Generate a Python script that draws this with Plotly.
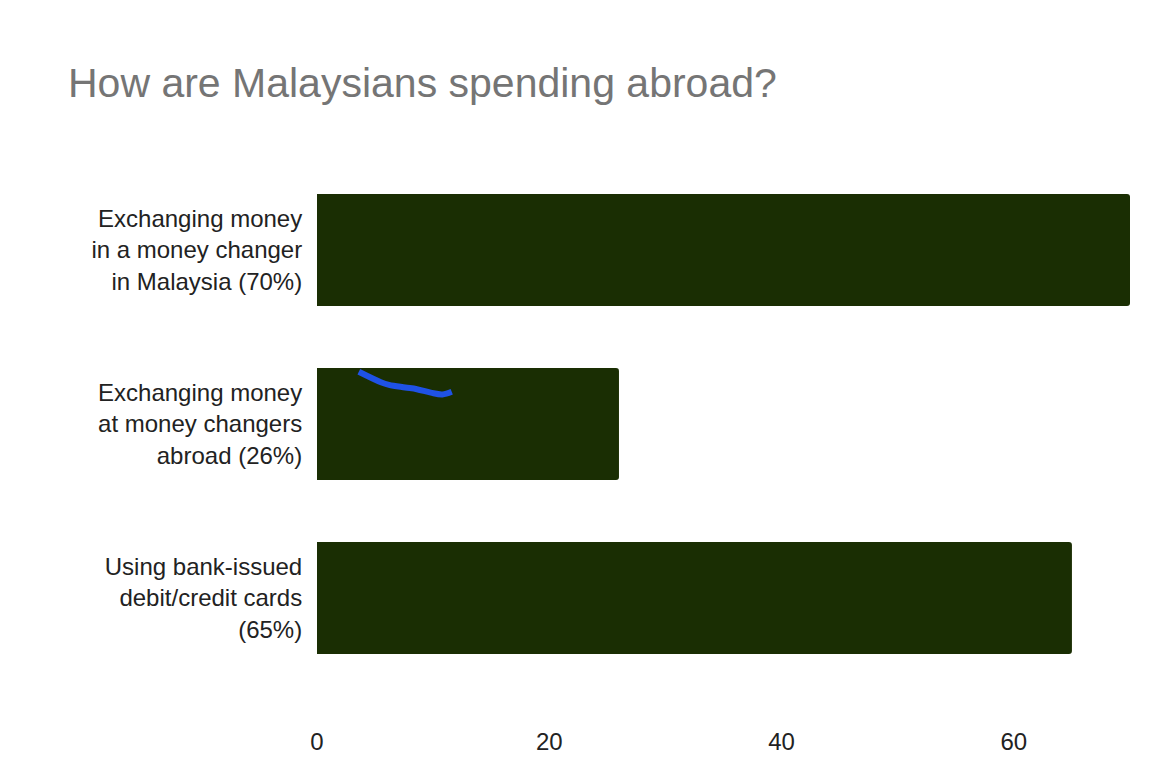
import plotly.graph_objects as go

# datos
labels = [
    "Exchanging money<br>in a money changer<br>in Malaysia (70%)",
    "Exchanging money<br>at money changers<br>abroad (26%)",
    "Using bank-issued<br>debit/credit cards<br>(65%)",
]
values = [70, 26, 65]
positions = [0, 1, 2]
x_ticks = [0, 20, 40, 60]

# trazo azul a mano sobre la segunda barra
scribble_x = [3.6, 5.5, 6.2, 7.6, 8.6, 9.8, 10.8, 11.6]
scribble_y = [0.70, 0.76, 0.775, 0.79, 0.80, 0.82, 0.83, 0.815]

fig = go.Figure()
fig.add_trace(go.Bar(
    x=values,
    y=positions,
    orientation="h",
    width=0.645,
    marker=dict(color="#1a2e03", line=dict(width=0)),
    showlegend=False,
))
fig.add_trace(go.Scatter(
    x=scribble_x,
    y=scribble_y,
    mode="lines",
    line=dict(color="#1f52e6", width=6, shape="spline"),
    showlegend=False,
))

fig.update_layout(
    width=1172,
    height=764,
    template="plotly_white",
    plot_bgcolor="white",
    paper_bgcolor="white",
    margin=dict(l=309, r=50, t=155, b=87),
    barcornerradius=3,
    font=dict(family="Liberation Sans, Arial, sans-serif", color="#222222", size=24),
    title=dict(
        text="How are Malaysians spending abroad?",
        xref="container", yref="container",
        x=60 / 1172, y=1 - 74.5 / 764,
        xanchor="left", yanchor="middle",
        font=dict(size=41, color="#757575"),
    ),
)
fig.update_xaxes(
    range=[0, 70],
    tickvals=x_ticks,
    showgrid=False,
    zeroline=False,
    showline=False,
    ticks="outside",
    ticklen=35,
    tickcolor="rgba(0,0,0,0)",
    tickfont=dict(size=24, color="#222222"),
)
fig.update_yaxes(
    range=[2.5, -0.5],
    tickvals=positions,
    ticktext=labels,
    showgrid=False,
    zeroline=False,
    showline=False,
    ticks="outside",
    ticklen=9,
    tickcolor="rgba(0,0,0,0)",
    tickfont=dict(size=24, color="#222222"),
)

fig.write_html("out.html")
